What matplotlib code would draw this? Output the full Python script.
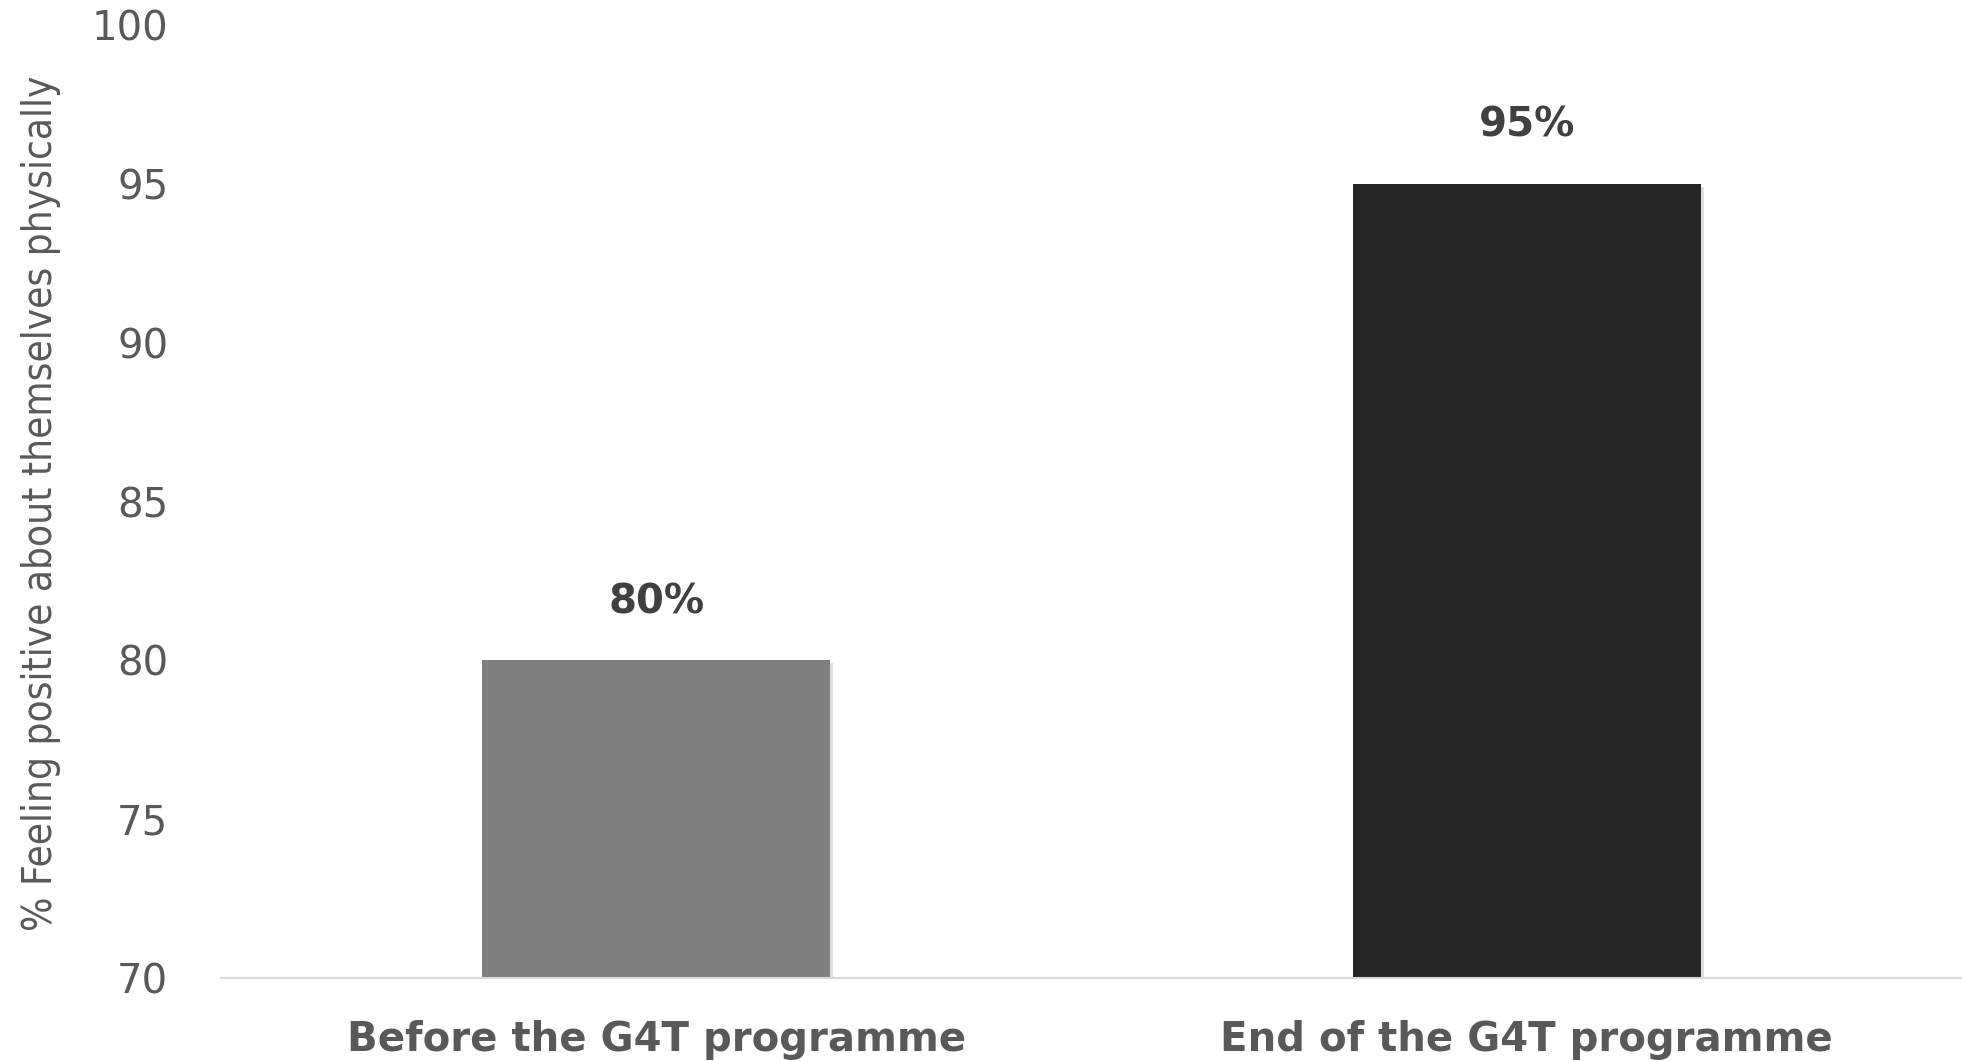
import matplotlib
matplotlib.use("Agg")
import matplotlib.pyplot as plt
import matplotlib.patheffects as pe

# ----------------------------
# Data
# ----------------------------

categories = ["Before the G4T programme", "End of the G4T programme"]
values = [80, 95]
bar_labels = ["80%", "95%"]
bar_colors = ["#7f7f7f", "#262626"]
yticks = [70, 75, 80, 85, 90, 95, 100]

ylabel = "% Feeling positive about themselves physically"

# ----------------------------
# Plot
# ----------------------------

fig = plt.figure(figsize=(19.62, 10.61), dpi=100)
ax = fig.add_axes([0.1127, 0.0782, 0.8873, 0.8982])

x = list(range(len(categories)))
bars = ax.bar(x, values, width=0.4, color=bar_colors, zorder=3)
for b in bars:
    b.set_path_effects([pe.SimplePatchShadow(offset=(2, -2), alpha=0.25, shadow_rgbFace="#808080"),
                        pe.Normal()])

ax.set_ylim(70, 100)
ax.set_xlim(-0.5, 1.5)
ax.set_yticks(yticks)
ax.set_xticks(x)
ax.set_xticklabels(categories, fontsize=29, fontweight="bold", color="#595959")
ax.tick_params(axis="x", length=0, pad=30)
ax.tick_params(axis="y", length=0, labelsize=29, labelcolor="#595959", pad=38)

for s in ["top", "right", "left"]:
    ax.spines[s].set_visible(False)
ax.spines["bottom"].set_color("#d9d9d9")
ax.spines["bottom"].set_linewidth(1.5)
ax.spines["bottom"].set_zorder(4)

for b, lab in zip(bars, bar_labels):
    ax.annotate(lab, (b.get_x() + b.get_width() / 2, b.get_height()),
                xytext=(0, 42), textcoords="offset points",
                ha="center", va="center", fontsize=29, fontweight="bold",
                color="#404040")

fig.text(0.021, 0.526, ylabel, rotation=90, ha="center", va="center",
         fontsize=29, color="#595959", family="DejaVu Sans", stretch="condensed")

fig.savefig("out.png", dpi=100)
